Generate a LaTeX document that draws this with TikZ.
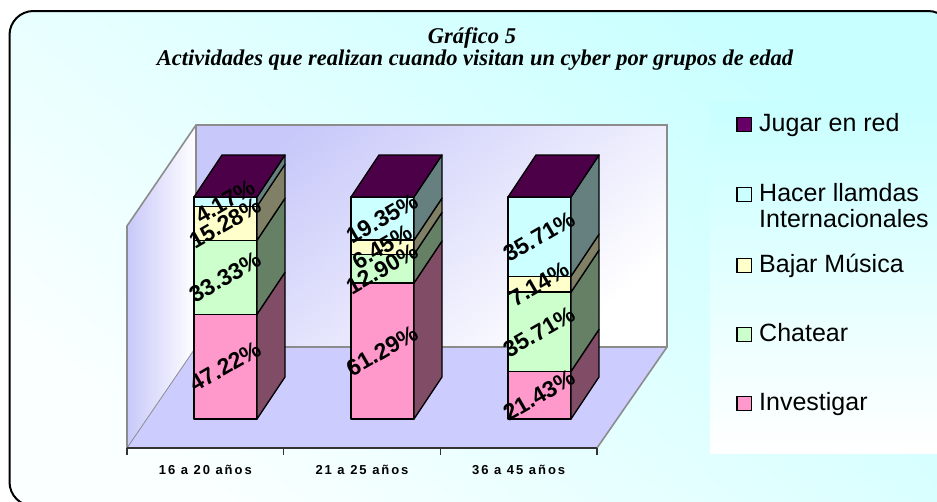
\documentclass[tikz,border=0pt]{standalone}
\usepackage{fontspec}
\setmainfont{Liberation Serif}
\setsansfont{Liberation Sans}
\definecolor{bgTop}{HTML}{C8FFFF}
\definecolor{bgBot}{HTML}{FAFFFF}
\definecolor{wallA}{HTML}{C8C8FA}
\definecolor{floorC}{HTML}{CCCCFF}
\definecolor{edgeC}{HTML}{8C8C8C}
\definecolor{pinkF}{HTML}{FF99CC}
\definecolor{pinkS}{HTML}{804C66}
\definecolor{greenF}{HTML}{CCFFCC}
\definecolor{greenS}{HTML}{668066}
\definecolor{yellowF}{HTML}{FFFFCC}
\definecolor{yellowS}{HTML}{808066}
\definecolor{cyanF}{HTML}{CCFFFF}
\definecolor{cyanS}{HTML}{668080}
\definecolor{purpleF}{HTML}{660066}
\definecolor{purpleT}{HTML}{4C0048}
\newcommand\barseg[5]{%
  \filldraw[fill=#4, barline] (#1,#2) rectangle (#1+63,#3);
  \filldraw[fill=#5, barline] (#1+63,#2) -- (#1+91,#2-42) -- (#1+91,#3-42) -- (#1+63,#3) -- cycle;}
\newcommand\bartop[1]{%
  \filldraw[fill=purpleT, barline] (#1,197) -- (#1+63,197) -- (#1+91,155) -- (#1+28,155) -- cycle;}
\begin{document}
\begin{tikzpicture}[x=1pt,y=-1pt,
  barline/.style={draw=black, line width=1.3pt, line join=round},
  walledge/.style={draw=edgeC, line width=1.6pt},
  pct/.style={font=\sffamily\bfseries\fontsize{23}{25}\selectfont, rotate=30, inner sep=0pt},
  cat/.style={font=\sffamily\bfseries\fontsize{13}{15}\selectfont\addfontfeature{LetterSpace=15}, inner sep=0pt},
  leg/.style={font=\sffamily\fontsize{25}{26.7}\selectfont, inner sep=0pt, anchor=base west, align=left},
  legbox/.style={draw=black, line width=1.2pt},
  ttl/.style={font=\rmfamily\bfseries\itshape\fontsize{22.5}{24}\selectfont, inner sep=0pt}]
\useasboundingbox (0,0) rectangle (937,501);
\clip (0,0) rectangle (937,501);
\fill[white] (0,0) rectangle (937,501);
% frame
\shade[rounded corners=24pt, top color=bgTop, bottom color=bgBot, shading angle=-40] (9.5,11) rectangle (952,506);
\draw[line width=2pt, rounded corners=24pt] (9.5,11) rectangle (952,506);
% legend background
\shade[top color=bgTop, bottom color=white] (710,102) rectangle (945,453);
% title
\node[ttl] (t1) at (472,38) {Gráfico 5};
\node[ttl] (t2) at (475,60) {Actividades que realizan cuando visitan un cyber por grupos de edad};
% walls and floor
\shade[top color=wallA, bottom color=white, shading angle=40] (196,125) rectangle (667,347);
\shade[top color=wallA, bottom color=white, shading angle=90] (127,226) -- (196,125) -- (196,347) -- (127,448) -- cycle;
\fill[floorC] (196,347) -- (667,347) -- (597,448) -- (127,448) -- cycle;
\draw[walledge] (127,448) -- (127,226) -- (196,125) -- (667,125) -- (667,347) -- (597,448);
\draw[walledge] (196,125) -- (196,347) -- (667,347);
\draw[draw=edgeC, line width=0.8pt] (196,347) -- (127,448);
% axis
\draw[draw=black!80, line width=1.2pt] (127,448) -- (597,448);
\foreach \tx in {127,283.7,440.3,597} \draw[draw=black!80, line width=1.2pt] (\tx,448) -- (\tx,455);
\node[cat] (c1) at (205.3,470) {16 a 20 años};
\node[cat] (c2) at (362,470) {21 a 25 años};
\node[cat] (c3) at (518.7,470) {36 a 45 años};
% bar 1
\barseg{194}{419}{314.2}{pinkF}{pinkS}
\barseg{194}{314.2}{240.2}{greenF}{greenS}
\barseg{194}{240.2}{206.3}{yellowF}{yellowS}
\barseg{194}{206.3}{197}{cyanF}{cyanS}
\bartop{194}
% bar 2
\barseg{351}{419}{283}{pinkF}{pinkS}
\barseg{351}{283}{254.4}{greenF}{greenS}
\barseg{351}{254.4}{240.1}{yellowF}{yellowS}
\barseg{351}{240.1}{197}{cyanF}{cyanS}
\bartop{351}
% bar 3
\barseg{508}{419}{371.4}{pinkF}{pinkS}
\barseg{508}{371.4}{292.1}{greenF}{greenS}
\barseg{508}{292.1}{276.2}{yellowF}{yellowS}
\barseg{508}{276.2}{197}{cyanF}{cyanS}
\bartop{508}
% labels
\node[pct] (p11) at (225.5,366.6) {47.22\%};
\node[pct] (p12) at (225.5,277.2) {33.33\%};
\node[pct] (p13) at (225.5,223.2) {15.28\%};
\node[pct] (p14) at (225.5,201.7) {4.17\%};
\node[pct] (p21) at (382.5,351) {61.29\%};
\node[pct] (p22) at (382.5,268.7) {12.90\%};
\node[pct] (p23) at (382.5,247.2) {6.45\%};
\node[pct] (p24) at (382.5,218.5) {19.35\%};
\node[pct] (p31) at (539.5,395.2) {21.43\%};
\node[pct] (p32) at (539.5,331.7) {35.71\%};
\node[pct] (p33) at (539.5,284.1) {7.14\%};
\node[pct] (p34) at (539.5,236.6) {35.71\%};
% legend
\filldraw[fill=purpleF, legbox] (737,117.5) rectangle (751.5,131.5);
\node[leg] (l1) at (759,131) {Jugar en red};
\filldraw[fill=cyanF, legbox] (737,187.5) rectangle (751.5,201.5);
\node[leg] (l2) at (759,227.7) {Hacer llamdas\\Internacionales};
\filldraw[fill=yellowF, legbox] (737,258.5) rectangle (751.5,272.5);
\node[leg] (l3) at (759,272) {Bajar Música};
\filldraw[fill=greenF, legbox] (737,327.5) rectangle (751.5,341.5);
\node[leg] (l4) at (759,341) {Chatear};
\filldraw[fill=pinkF, legbox] (737,396.5) rectangle (751.5,410.5);
\node[leg] (l5) at (759,410) {Investigar};
\end{tikzpicture}
\end{document}
